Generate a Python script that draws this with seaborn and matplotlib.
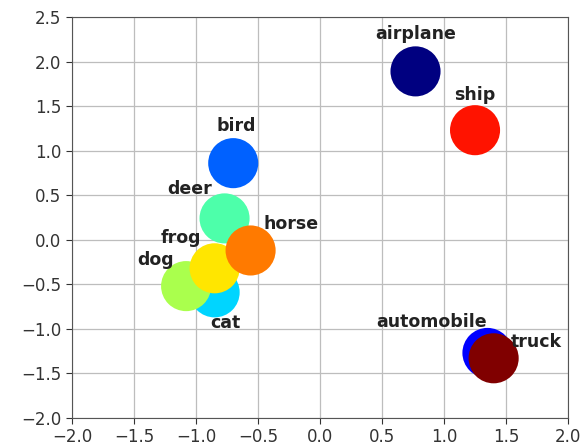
import numpy as np
import pandas as pd
import matplotlib
matplotlib.use("Agg")
import matplotlib.pyplot as plt
import seaborn as sns

# class embeddings (2d)
classes = ["airplane", "automobile", "bird", "cat", "deer",
           "dog", "frog", "horse", "ship", "truck"]
x_vals = [0.77, 1.35, -0.70, -0.85, -0.77, -1.08, -0.85, -0.56, 1.25, 1.40]
y_vals = [1.89, -1.27, 0.86, -0.59, 0.24, -0.52, -0.32, -0.12, 1.23, -1.33]

x_ticks = [-2.0, -1.5, -1.0, -0.5, 0.0, 0.5, 1.0, 1.5, 2.0]
y_ticks = [-2.0, -1.5, -1.0, -0.5, 0.0, 0.5, 1.0, 1.5, 2.0, 2.5]

# label offsets in points
label_offsets = {
    "airplane": (0, 27), "automobile": (-40, 22), "bird": (2, 27),
    "cat": (8, -22), "deer": (-25, 21), "dog": (-22, 19),
    "frog": (-24, 22), "horse": (29, 19), "ship": (0, 25), "truck": (31, 12),
}

df = pd.DataFrame({"x": x_vals, "y": y_vals, "label": classes})
cmap = plt.get_cmap("jet")
palette = {c: cmap(i / (len(classes) - 1)) for i, c in enumerate(classes)}

sns.set_style("ticks")
fig = plt.figure(figsize=(5.87, 4.48), dpi=100)
ax = fig.add_axes([0.1227, 0.067, 0.845, 0.895])

sns.scatterplot(data=df, x="x", y="y", hue="label", palette=palette,
                s=1300, linewidth=0, legend=False, ax=ax, zorder=3)

for c, xx, yy in zip(classes, x_vals, y_vals):
    ax.annotate(c, (xx, yy), xytext=label_offsets[c], textcoords="offset points",
                ha="center", va="center", fontsize=12.5, fontweight="bold",
                color="#222222", zorder=4)

ax.set_xlim(-2.0, 2.0)
ax.set_ylim(-2.0, 2.5)
ax.set_xticks(x_ticks)
ax.set_yticks(y_ticks)
ax.tick_params(labelsize=12, colors="#333333", length=4)
ax.grid(True, color="#bdbdbd", linewidth=0.9, zorder=0)
ax.set_axisbelow(True)
ax.set_xlabel("")
ax.set_ylabel("")
for s in ax.spines.values():
    s.set_color("#555555")
    s.set_visible(True)

fig.savefig("out.png", dpi=100)
